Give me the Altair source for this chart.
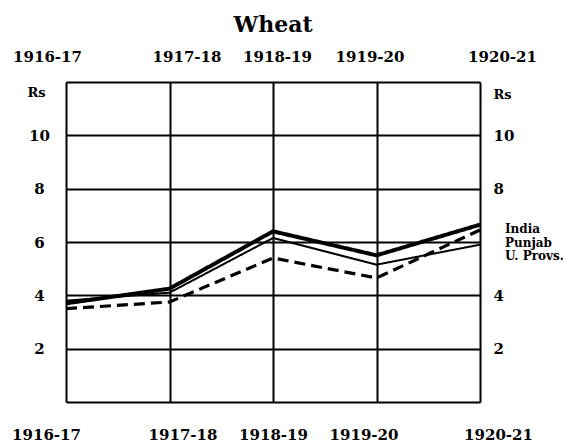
import altair as alt
import pandas as pd

years = ["1916-17", "1917-18", "1918-19", "1919-20", "1920-21"]
series = ["India", "Punjab", "U. Provs."]
india = [3.7, 4.25, 6.4, 5.5, 6.65]
punjab = [3.8, 4.1, 6.15, 5.15, 5.9]
u_provs = [3.5, 3.75, 5.4, 4.65, 6.45]
left_ticks = [0, 2, 4, 6, 8, 10, 12]
right_ticks = [2, 4, 8, 10]

rows = []
for name, vals in zip(series, [india, punjab, u_provs]):
    for yr, v in zip(years, vals):
        rows.append({"year": yr, "price": v, "series": name})
df = pd.DataFrame(rows)

FONT = "DejaVu Serif"

xscale = alt.Scale(domain=years, type="point", padding=0)
yscale = alt.Scale(domain=[0, 12], nice=False, zero=True)

bottom_off = ("datum.value == '1916-17' ? -20 : datum.value == '1917-18' ? 13 : "
              "datum.value == '1919-20' ? -13 : datum.value == '1920-21' ? 18 : 0")
top_off = ("datum.value == '1916-17' ? -19 : datum.value == '1917-18' ? 17 : "
           "datum.value == '1918-19' ? 4 : datum.value == '1919-20' ? -7 : "
           "datum.value == '1920-21' ? 22 : 0")

common_axis = dict(labelFont=FONT, labelFontSize=15, labelFontWeight="bold",
                   labelColor="black", ticks=False, tickSize=0, domain=False)

x_bottom = alt.X("year:N", scale=xscale, sort=years,
                 axis=alt.Axis(orient="bottom", title=None, labelAngle=0, grid=True,
                               gridColor="black", gridWidth=2, gridOpacity=1,
                               labelPadding=25, labelOffset={"expr": bottom_off},
                               **common_axis))
x_top = alt.X("year:N", scale=xscale, sort=years,
              axis=alt.Axis(orient="top", title=None, labelAngle=0, grid=False,
                            labelPadding=18, labelOffset={"expr": top_off},
                            **common_axis))
y_left = alt.Y("price:Q", scale=yscale,
               axis=alt.Axis(orient="left", values=left_ticks, grid=True,
                             gridColor="black", gridWidth=2, gridOpacity=1,
                             labelExpr="datum.value == 0 || datum.value == 12 ? '' : datum.label",
                             labelAlign="center", labelBaseline="middle", labelPadding=27,
                             title="Rs", titleAngle=0, titleX=-30, titleY=10,
                             titleAlign="center", titleBaseline="middle",
                             titleFont=FONT, titleFontSize=13, titleFontWeight="bold",
                             titleColor="black", **common_axis))
y_right = alt.Y("price:Q", scale=yscale,
                axis=alt.Axis(orient="right", values=right_ticks, grid=False,
                              labelAlign="left", labelBaseline="middle", labelPadding=13,
                              title="Rs", titleAngle=0, titleX=13, titleY=12,
                              titleAlign="left", titleBaseline="middle",
                              titleFont=FONT, titleFontSize=13, titleFontWeight="bold",
                              titleColor="black", **common_axis))

lines = alt.Chart(df).mark_line(color="black").encode(
    x=x_bottom,
    y=y_left,
    detail="series:N",
    strokeDash=alt.StrokeDash(
        "series:N",
        scale=alt.Scale(domain=series, range=[[1, 0], [1, 0], [11, 6]]),
        legend=alt.Legend(title=None, orient="none", legendX=427, legendY=141,
                          symbolOpacity=0, symbolSize=0, symbolStrokeWidth=0,
                          labelOffset=0, padding=0, rowPadding=1.5,
                          labelFont=FONT, labelFontSize=12, labelFontWeight="bold",
                          labelColor="black"),
    ),
    strokeWidth=alt.StrokeWidth(
        "series:N", scale=alt.Scale(type="ordinal", domain=series, range=[4, 2, 3.2]),
        legend=None
    ),
    order=alt.Order("series:N", sort="descending"),
)

axes2 = alt.Chart(df).mark_point(opacity=0).encode(x=x_top, y=y_right)

chart = alt.layer(lines, axes2).properties(
    width=414,
    height=320,
    autosize=alt.AutoSizeParams(type="none"),
    padding={"left": 58, "top": 74, "right": 83, "bottom": 42},
    title=alt.TitleParams("Wheat", font=FONT, fontSize=22, fontWeight="bold",
                          color="black", anchor="middle", dx=0, offset=12),
).configure_view(stroke="black", strokeWidth=2.5).configure(background="white")

chart.save("out.html", embed_options={"renderer": "svg", "actions": False})
